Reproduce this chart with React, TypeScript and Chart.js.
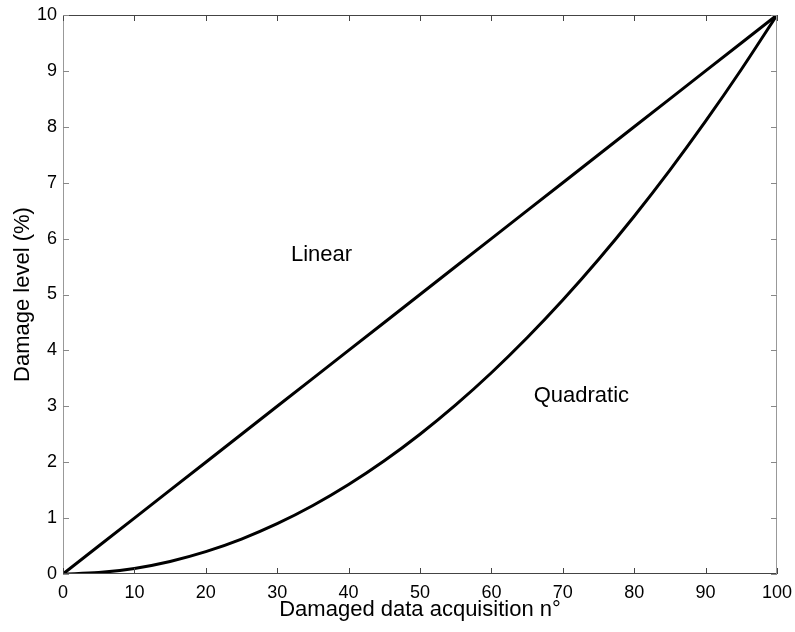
import React, { useEffect, useRef } from "react";
import { Chart, registerables } from "chart.js";

Chart.register(...registerables);

const xValues = [0, 5, 10, 15, 20, 25, 30, 35, 40, 45, 50, 55, 60, 65, 70, 75, 80, 85, 90, 95, 100];
const linearValues = [0, 0.5, 1, 1.5, 2, 2.5, 3, 3.5, 4, 4.5, 5, 5.5, 6, 6.5, 7, 7.5, 8, 8.5, 9, 9.5, 10];
const quadraticValues = [0, 0.025, 0.1, 0.225, 0.4, 0.625, 0.9, 1.225, 1.6, 2.025, 2.5, 3.025, 3.6, 4.225, 4.9, 5.625, 6.4, 7.225, 8.1, 9.025, 10];
const xTickValues = [0, 10, 20, 30, 40, 50, 60, 70, 80, 90, 100];
const yTickValues = [0, 1, 2, 3, 4, 5, 6, 7, 8, 9, 10];
const annotationTexts = ["Linear", "Quadratic"];
const annotationX = [36.2, 72.6];
const annotationY = [5.71, 3.19];

const FONT = "Arial, 'Liberation Sans', Helvetica, sans-serif";

const framePlugin = {
  id: "frame",
  afterDatasetsDraw(chart: any) {
    const { ctx, chartArea: a, scales } = chart;
    const xs = scales.x;
    const ys = scales.y;
    ctx.save();
    ctx.lineWidth = 1;
    ctx.strokeStyle = "#444";
    ctx.beginPath();
    ctx.moveTo(a.left, a.top + 0.5);
    ctx.lineTo(a.right, a.top + 0.5);
    ctx.moveTo(a.left, a.bottom - 0.5);
    ctx.lineTo(a.right, a.bottom - 0.5);
    ctx.stroke();
    ctx.strokeStyle = "#999";
    ctx.beginPath();
    ctx.moveTo(a.left + 0.5, a.top);
    ctx.lineTo(a.left + 0.5, a.bottom);
    ctx.moveTo(a.right - 0.5, a.top);
    ctx.lineTo(a.right - 0.5, a.bottom);
    ctx.stroke();
    const len = 6;
    ctx.strokeStyle = "#444";
    ctx.beginPath();
    xTickValues.forEach((v) => {
      const px = Math.round(xs.getPixelForValue(v)) + 0.5;
      ctx.moveTo(px, a.bottom);
      ctx.lineTo(px, a.bottom - len);
      ctx.moveTo(px, a.top);
      ctx.lineTo(px, a.top + len);
    });
    ctx.stroke();
    ctx.strokeStyle = "#888";
    ctx.beginPath();
    yTickValues.forEach((v) => {
      const py = Math.round(ys.getPixelForValue(v)) + 0.5;
      ctx.moveTo(a.left, py);
      ctx.lineTo(a.left + len, py);
      ctx.moveTo(a.right, py);
      ctx.lineTo(a.right - len, py);
    });
    ctx.stroke();
    ctx.fillStyle = "#000";
    ctx.font = `22px ${FONT}`;
    ctx.textAlign = "center";
    ctx.textBaseline = "middle";
    annotationTexts.forEach((t, i) => {
      ctx.fillText(t, xs.getPixelForValue(annotationX[i]), ys.getPixelForValue(annotationY[i]));
    });
    ctx.restore();
  },
};

export default function App() {
  const ref = useRef<HTMLCanvasElement>(null);
  useEffect(() => {
    document.body.style.margin = "0";
    const chart = new Chart(ref.current!, {
      type: "line",
      data: {
        datasets: [
          {
            label: "Linear",
            data: xValues.map((x, i) => ({ x, y: linearValues[i] })),
            borderColor: "#000",
            borderWidth: 3,
            pointRadius: 0,
            tension: 0,
          },
          {
            label: "Quadratic",
            data: xValues.map((x, i) => ({ x, y: quadraticValues[i] })),
            borderColor: "#000",
            borderWidth: 3,
            pointRadius: 0,
            cubicInterpolationMode: "monotone",
          },
        ],
      },
      options: {
        animation: false,
        responsive: false,
        devicePixelRatio: 1,
        layout: { padding: { top: 15, right: 18, left: 0, bottom: 0 } },
        plugins: { legend: { display: false }, tooltip: { enabled: false } },
        scales: {
          x: {
            type: "linear",
            min: 0,
            max: 100,
            afterBuildTicks: (s: any) => {
              s.ticks = xTickValues.map((v) => ({ value: v }));
            },
            afterFit: (s: any) => {
              s.height = 58;
              s.paddingLeft = 0;
              s.paddingRight = 0;
            },
            grid: { display: false, drawTicks: false },
            border: { display: false },
            ticks: { color: "#000", font: { size: 18, family: FONT }, padding: 8, maxRotation: 0 },
            title: {
              display: true,
              text: "Damaged data acquisition n°",
              color: "#000",
              font: { size: 22, family: FONT },
              padding: { top: 0, bottom: 9 },
            },
          },
          y: {
            type: "linear",
            min: 0,
            max: 10,
            afterBuildTicks: (s: any) => {
              s.ticks = yTickValues.map((v) => ({ value: v }));
            },
            afterFit: (s: any) => {
              s.width = 63;
              s.paddingTop = 0;
              s.paddingBottom = 0;
            },
            grid: { display: false, drawTicks: false },
            border: { display: false },
            ticks: { color: "#000", font: { size: 18, family: FONT }, padding: 6 },
            title: {
              display: true,
              text: "Damage level (%)",
              color: "#000",
              font: { size: 22, family: FONT },
              padding: { top: 10, bottom: 0 },
            },
          },
        },
      },
      plugins: [framePlugin],
    } as any);
    return () => chart.destroy();
  }, []);
  return (
    <div style={{ position: "absolute", left: 0, top: 0, width: 795, height: 632, background: "#fff" }}>
      <canvas ref={ref} width={795} height={632} />
    </div>
  );
}
